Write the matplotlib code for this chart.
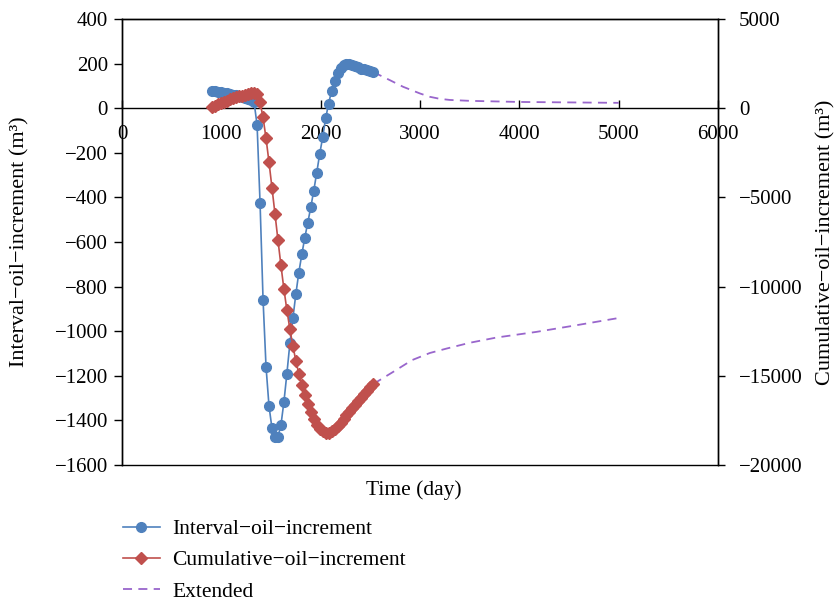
import matplotlib
matplotlib.use("Agg")
import matplotlib.pyplot as plt
from matplotlib.lines import Line2D

plt.rcParams['font.family'] = ['Liberation Serif', 'DejaVu Serif']
plt.rcParams['axes.unicode_minus'] = True

# ---- data ----
days = [910, 940, 970, 1000, 1030, 1060, 1090, 1120, 1150, 1180, 1210, 1240, 1270, 1300, 1330,
        1360, 1390, 1420, 1450, 1480, 1510, 1540, 1570, 1600, 1630, 1660, 1690, 1720, 1750, 1780,
        1810, 1840, 1870, 1900, 1930, 1960, 1990, 2020, 2050, 2080, 2110, 2140, 2170, 2200, 2230,
        2260, 2290, 2320, 2350, 2380, 2410, 2440, 2470, 2500, 2530]

interval_oil = [78, 76, 73, 71, 68, 66, 63, 60, 57, 54, 50, 46, 41, 35, 26,
                -76, -427, -858, -1160, -1336, -1436, -1473, -1473, -1421, -1317, -1190, -1055, -943, -834, -737,
                -656, -581, -514, -445, -371, -290, -206, -131, -46, 21, 78, 121, 156, 181, 192,
                197, 198, 193, 188, 183, 178, 174, 170, 166, 162]

cumulative_oil = [60, 140, 215, 290, 360, 425, 490, 550, 605, 660, 710, 755, 800, 835, 865,
                  790, 330, -520, -1690, -3030, -4470, -5920, -7390, -8810, -10140, -11320, -12380, -13320, -14150, -14890,
                  -15540, -16100, -16600, -17050, -17440, -17740, -17960, -18120, -18200, -18180, -18100, -17970, -17810, -17630, -17430,
                  -17220, -17010, -16810, -16610, -16420, -16230, -16040, -15850, -15650, -15460]

ext_interval_days = [2530, 2700, 2830, 3000, 3100, 3200, 3300, 3500, 4000, 4500, 5000]
ext_interval_vals = [162, 125, 96, 66, 51, 42, 37, 33, 28, 26, 24]

ext_cum_days = [2530, 2730, 2920, 3100, 3270, 3500, 3770, 4170, 4580, 5000]
ext_cum_vals = [-15460, -14780, -14120, -13720, -13470, -13150, -12855, -12540, -12160, -11760]

x_ticks = [0, 1000, 2000, 3000, 4000, 5000, 6000]
left_ticks = list(range(-1600, 401, 200))
right_ticks = [-20000, -15000, -10000, -5000, 0, 5000]

# ---- styling ----
blue = '#4F81BD'
red = '#C0504D'
purple = '#9966CC'
fs = 15
fs_lab = 15.5

fig = plt.figure(figsize=(8.37, 6.04), dpi=100)
ax = fig.add_axes([122/837, 1-465/604, (718-122)/837, (465-19)/604])
ax2 = ax.twinx()

ax.plot(days, interval_oil, color=blue, lw=1.2, marker='o', markersize=7,
        markerfacecolor=blue, markeredgecolor=blue, zorder=3)
ax.plot(ext_interval_days, ext_interval_vals, color=purple, lw=1.3, ls=(0, (5, 3.5)), zorder=2)

ax2.plot(days, cumulative_oil, color=red, lw=1.2, marker='D', markersize=6,
         markerfacecolor=red, markeredgecolor=red, zorder=3)
ax2.plot(ext_cum_days, ext_cum_vals, color=purple, lw=1.3, ls=(0, (5, 3.5)), zorder=2)

ax.set_xlim(0, 6000)
ax.set_ylim(-1600, 400)
ax2.set_ylim(-20000, 5000)
ax.set_xticks(x_ticks)
ax.set_yticks(left_ticks)
ax2.set_yticks(right_ticks)

for a in (ax, ax2):
    for s in a.spines.values():
        s.set_linewidth(1.0)
        s.set_color('black')

ax.spines['bottom'].set_position(('data', 0))
ax2.spines['bottom'].set_visible(False)
ax.axhline(-1600, color='black', lw=1.0, clip_on=False, zorder=5)

ax.tick_params(axis='x', direction='in', length=6, width=1.0, labelsize=fs, pad=12)
ax.tick_params(axis='y', direction='out', length=6, width=1.0, labelsize=fs, pad=4)
ax2.tick_params(axis='y', direction='out', length=5, width=1.0, labelsize=fs, pad=10)

fig.text(414/837, 1-490/604, 'Time (day)', ha='center', va='center', fontsize=fs_lab)
fig.text(20/837, 1-242/604, 'Interval\u2212oil\u2212increment (m\u00b3)', rotation=90,
         ha='center', va='center', fontsize=16)
fig.text(826/837, 1-242/604, 'Cumulative\u2212oil\u2212increment (m\u00b3)', rotation=90,
         ha='center', va='center', fontsize=16)

handles = [
    Line2D([], [], color=blue, lw=1.2, marker='o', markersize=7),
    Line2D([], [], color=red, lw=1.2, marker='D', markersize=6),
    Line2D([], [], color=purple, lw=1.3, ls=(0, (5, 3.5))),
]
labels = ['Interval\u2212oil\u2212increment', 'Cumulative\u2212oil\u2212increment', 'Extended']
fig.legend(handles, labels, loc='upper left', bbox_to_anchor=(123/837, 1-519/604),
           frameon=False, fontsize=fs_lab, borderpad=0, borderaxespad=0,
           handlelength=1.7, handletextpad=0.6, labelspacing=0.52)

fig.savefig('out.png', dpi=100)
